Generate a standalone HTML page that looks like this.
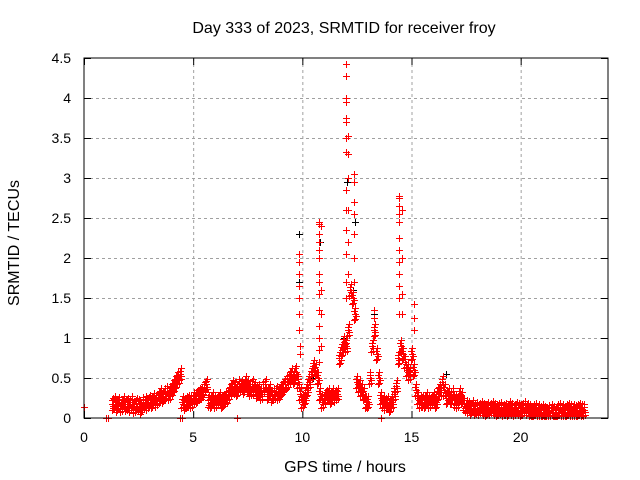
<!DOCTYPE html>
<html><head><meta charset="utf-8"><style>
body{margin:0;background:#fff;}
svg{display:block;font-family:"Liberation Sans",sans-serif;}
</style></head><body>
<svg id="chart" width="640" height="480">
<text x="344" y="33" font-size="16" text-anchor="middle">Day 333 of 2023, SRMTID for receiver froy</text>
<text x="345" y="472" font-size="16" text-anchor="middle">GPS time / hours</text>
<text transform="translate(19,243) rotate(-90)" font-size="16" text-anchor="middle">SRMTID / TECUs</text>
<g id="grid"></g><g id="ticks"></g><g id="marks"></g>
<rect x="84" y="58" width="524" height="360" fill="none" stroke="#000" stroke-width="1"/>
</svg>
<script>
const xTicks=[0,5,10,15,20];
const yTicks=[0,0.5,1,1.5,2,2.5,3,3.5,4,4.5];
const yTickLabels=["0","0.5","1","1.5","2","2.5","3","3.5","4","4.5"];
const baseStart=1.3;
const baseValues=[0.18,0.2,0.16,0.19,0.15,0.2,0.17,0.18,
0.16,0.2,0.14,0.18,0.17,0.13,0.19,0.2,0.18,0.22,
0.2,0.24,0.22,0.25,0.3,0.27,0.3,0.33,0.3,0.35,
0.4,0.45,0.5,0.55,0.2,
0.18,0.2,0.22,0.2,0.25,
0.25,0.28,0.3,0.32,0.38,0.42,0.22,0.2,0.25,
0.2,0.22,0.25,0.2,0.23,0.25,0.3,0.35,0.4,0.38,
0.35,0.42,0.4,0.38,0.45,0.4,0.35,0.42,0.38,0.33,
0.35,0.3,0.38,0.42,0.3,0.35,0.28,0.3,0.33,0.3,
0.35,0.38,0.42,0.45,0.5,0.55,0.5,0.58,0.45,0.3,
0.2,0.25,0.35,0.45,0.55,0.65,0.6,0.5,0.3,0.2,
0.25,0.28,0.3,0.25,0.3,0.28,0.3,0.75,0.85,0.95,
0.9,1.1,1.6,1.5,1.3,0.45,0.4,0.35,0.3,0.2,
0.2,0.5,0.9,1.1,0.8,0.5,0.25,0.2,0.18,0.2,
0.15,0.2,0.3,0.4,0.75,0.9,0.8,0.7,0.6,0.55,
0.8,0.6,0.35,0.25,0.2,0.22,0.2,0.25,0.2,0.22,
0.25,0.2,0.3,0.35,0.45,0.35,0.25,0.3,0.25,0.3,
0.22,0.2,0.3,0.25,0.18,0.15,0.14,0.12,0.15,0.12,
0.13,0.12,0.14,0.12,0.1,0.13,0.12,0.14,0.12,0.1,
0.12,0.13,0.1,0.12,0.1,0.14,0.12,0.1,0.13,0.12,
0.1,0.12,0.14,0.12,0.1,0.08,0.1,0.12,0.1,0.08,
0.1,0.08,0.07,0.09,0.1,0.08,0.07,0.1,0.12,0.1,
0.08,0.1,0.12,0.1,0.11,0.09,0.1,0.12,0.1,0.1];
const spikeTimes=[9.85,9.85,9.85,9.85,9.85,9.85,9.85,9.9,9.9,
10.75,10.75,10.75,10.75,10.75,10.75,10.75,10.75,10.75,10.75,10.75,10.75,10.75,10.75,10.85,10.85,10.85,10.85,
12.0,12.0,12.0,12.0,12.0,12.0,12.0,12.0,12.0,12.0,12.0,12.0,12.0,12.0,12.1,12.1,12.1,12.1,12.1,12.1,
12.35,12.35,12.35,12.35,12.35,12.35,12.35,13.3,13.3,13.3,
14.45,14.45,14.45,14.45,14.45,14.45,14.45,14.45,14.45,14.45,14.45,14.45,14.55,14.55,14.55,14.55,15.1,15.1,15.1,
1.0,1.1,4.4,4.5,7.0,13.6,0];
const spikeValues=[1.1,1.3,1.5,1.65,1.8,1.95,2.05,0.8,0.9,
2.45,2.42,2.3,2.2,2.1,2.0,1.8,1.7,1.55,1.35,1.15,1.0,0.85,0.7,2.4,1.6,1.3,0.9,
4.43,4.28,4.0,3.95,3.75,3.7,3.5,3.32,2.85,2.6,2.35,2.05,1.7,1.5,3.52,3.3,3.0,2.6,2.2,1.8,
3.05,2.95,2.7,2.55,2.3,2.0,1.7,1.35,1.25,1.1,
2.78,2.75,2.65,2.55,2.45,2.25,2.1,1.95,1.8,1.65,1.5,1.3,2.6,2.0,1.55,1.3,1.42,1.25,1.1,
0,0,0,0,0,0,0.14];
const blackTimes=[9.85,9.85,10.8,12.05,12.3,12.4,13.3,16.6,10.5,11.9];
const blackValues=[2.3,1.7,2.2,2.95,1.6,2.45,1.3,0.55,0.5,1.0];

const X=t=>84+t*(524/24);
const Y=v=>418-v*80;
const NS="http://www.w3.org/2000/svg";
const grid=document.getElementById('grid'),ticks=document.getElementById('ticks'),marks=document.getElementById('marks');
function line(g,x1,y1,x2,y2,st,dash){const l=document.createElementNS(NS,'line');l.setAttribute('x1',x1);l.setAttribute('y1',y1);l.setAttribute('x2',x2);l.setAttribute('y2',y2);l.setAttribute('stroke',st);if(dash)l.setAttribute('stroke-dasharray',dash);g.appendChild(l);return l;}
function txt(x,y,s,anchor){const t=document.createElementNS(NS,'text');t.setAttribute('x',x);t.setAttribute('y',y);t.setAttribute('font-size','14');t.setAttribute('text-anchor',anchor);t.textContent=s;ticks.appendChild(t);return t;}
xTicks.forEach(t=>{const x=X(t)+0.5;
 if(t>0){const g=line(grid,x,58,x,418,'#a0a0a0','3,3');
 
 }
 line(ticks,x,418,x,411,'#000');line(ticks,x,58,x,65,'#000');
 const l=txt(X(t),442,String(t),'middle');
 
 });
yTicks.forEach((v,i)=>{const y=Y(v)+0.5;
 if(v>0&&v<4.5){const g=line(grid,84,y,608,y,'#a0a0a0','3,3');
 
 }
 line(ticks,84,y,91,y,'#000');line(ticks,608,y,601,y,'#000');
 const l=txt(71,Y(v)+5,yTickLabels[i],'end');
 
 });
function plus(t,v,col,name){const g=document.createElementNS(NS,'path');const x=Math.round(X(t))+0.5,y=Math.round(Y(v))+0.5;
 g.setAttribute('d',`M${x-3.5} ${y}H${x+3.5}M${x} ${y-3.5}V${y+3.5}`);g.setAttribute('stroke',col);g.setAttribute('fill','none');
 
 
 marks.appendChild(g);}
blackTimes.forEach((t,i)=>plus(t,blackValues[i],'#000','black-point'));
const offs=[[-0.04,-0.08],[0.02,0.07],[0.05,-0.03],[-0.02,0.04],[0,0],[0.03,-0.06]];
baseValues.forEach((v,i)=>{const t=baseStart+i*0.1;
 offs.forEach(o=>plus(t+o[0],Math.max(0.02,v+o[1]),'#f00','srmtid-point'));});
spikeTimes.forEach((t,i)=>plus(t,spikeValues[i],'#f00','srmtid-spike-point'));
</script>
</body></html>
